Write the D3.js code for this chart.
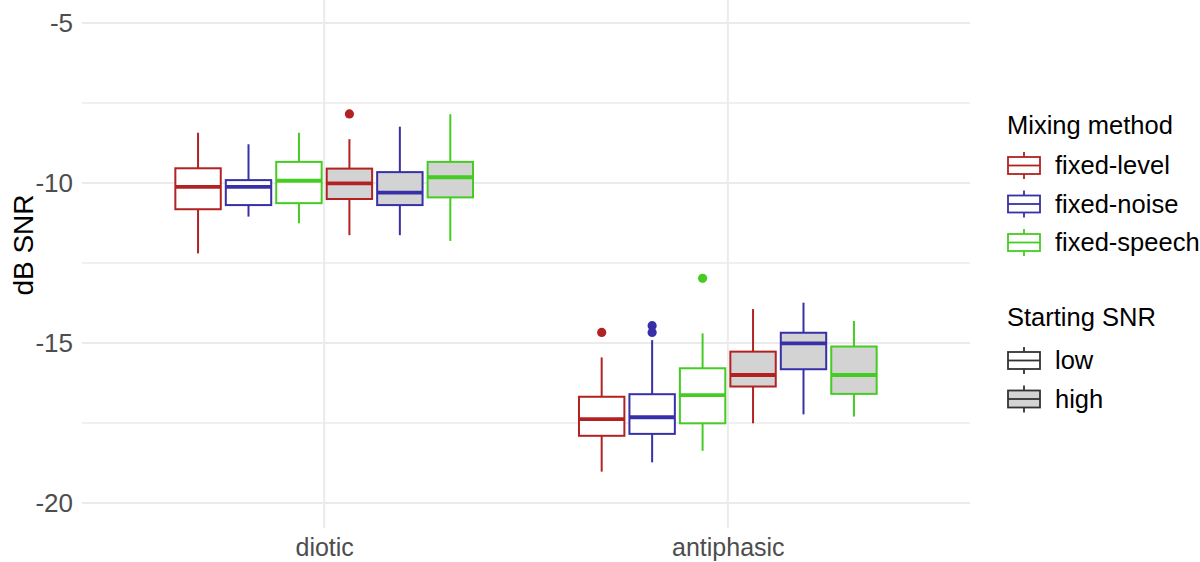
<!DOCTYPE html>
<html>
<head>
<meta charset="utf-8">
<script src="https://cdn.jsdelivr.net/npm/d3@7"></script>
<style>
  body { margin: 0; background: #fff; }
  svg { font-family: "Liberation Sans", Arial, sans-serif; }
</style>
</head>
<body>
<svg id="chart" width="1200" height="562"></svg>
<script>
// data, order inside each category: low x (level, noise, speech), high x (level, noise, speech)
const categories = ["diotic", "antiphasic"];
const methods = ["fixed-level", "fixed-noise", "fixed-speech"];
const starts = ["low", "high"];

const whiskerLow = [-12.2, -11.05, -11.26, -11.63, -11.63, -11.81,
                    -19.02, -18.73, -18.37, -17.51, -17.23, -17.3];
const q1 = [-10.82, -10.69, -10.63, -10.5, -10.69, -10.45,
            -17.9, -17.84, -17.51, -16.36, -15.82, -16.59];
const medians = [-10.12, -10.12, -9.93, -10.01, -10.3, -9.82,
                 -17.38, -17.32, -16.63, -16.0, -15.01, -16.0];
const q3 = [-9.54, -9.91, -9.34, -9.55, -9.66, -9.34,
            -16.68, -16.6, -15.79, -15.27, -14.68, -15.11];
const whiskerHigh = [-8.43, -8.79, -8.43, -8.63, -8.24, -7.85,
                     -15.45, -14.91, -14.7, -13.94, -13.74, -14.31];
const outliers = [[], [], [], [-7.84], [], [],
                  [-14.67], [-14.46, -14.67], [-12.98], [], [], []];

const yTicks = [-5, -10, -15, -20];
const yMinor = [-7.5, -12.5, -17.5];

const methodColors = ["#B22222", "#3730A9", "#44CC22"];
const startFills = ["#FFFFFF", "#D3D3D3"];

// layout
const svg = d3.select("#chart");
const panel = { left: 82, right: 970, top: 0, bottom: 528 };

const x = d3.scalePoint()
  .domain(categories)
  .range([panel.left, panel.right])
  .padding(0.6);

const dodgeWidth = x.step() * 0.75;
const groups = d3.range(starts.length * methods.length);
const xInner = d3.scaleBand()
  .domain(groups)
  .range([-dodgeWidth / 2, dodgeWidth / 2])
  .paddingInner(0.1)
  .paddingOuter(0.05);

const y = d3.scaleLinear()
  .domain([-20, -5])
  .range([503, 23]);

// grid
const grid = svg.append("g").attr("class", "grid");
grid.selectAll("line.ymin")
  .data(yMinor)
  .join("line")
  .attr("x1", panel.left).attr("x2", panel.right)
  .attr("y1", d => y(d)).attr("y2", d => y(d))
  .attr("stroke", "#EBEBEB").attr("stroke-width", 1.3);
grid.selectAll("line.ymaj")
  .data(yTicks)
  .join("line")
  .attr("x1", panel.left).attr("x2", panel.right)
  .attr("y1", d => y(d)).attr("y2", d => y(d))
  .attr("stroke", "#EBEBEB").attr("stroke-width", 2);
grid.selectAll("line.x")
  .data(categories)
  .join("line")
  .attr("x1", d => x(d)).attr("x2", d => x(d))
  .attr("y1", panel.top).attr("y2", panel.bottom)
  .attr("stroke", "#EBEBEB").attr("stroke-width", 2);

// axes (ggplot minimal: no lines, just labels)
const yAxis = svg.append("g")
  .attr("transform", `translate(${panel.left},0)`)
  .call(d3.axisLeft(y).tickValues(yTicks).tickFormat(d => String(d)).tickSize(0).tickPadding(9));
yAxis.select(".domain").remove();
yAxis.selectAll("text")
  .attr("fill", "#4D4D4D")
  .style("font-size", "26px")
  .style("font-family", "Liberation Sans, Arial, sans-serif");

const xAxis = svg.append("g")
  .attr("transform", `translate(0,${panel.bottom})`)
  .call(d3.axisBottom(x).tickSize(0).tickPadding(10));
xAxis.select(".domain").remove();
xAxis.selectAll("text")
  .attr("fill", "#4D4D4D")
  .style("font-size", "25px")
  .style("font-family", "Liberation Sans, Arial, sans-serif");

svg.append("text")
  .attr("transform", "translate(33,245) rotate(-90)")
  .attr("text-anchor", "middle")
  .style("font-size", "28px")
  .attr("fill", "#000")
  .text("dB SNR");

// boxes
const boxData = d3.range(categories.length * groups.length).map(k => {
  const g = k % groups.length;
  return {
    k,
    cat: categories[Math.floor(k / groups.length)],
    g,
    method: g % methods.length,
    start: Math.floor(g / methods.length)
  };
});

const boxes = svg.append("g").attr("class", "boxes")
  .selectAll("g")
  .data(boxData)
  .join("g")
  .attr("transform", d => `translate(${x(d.cat) + xInner(d.g)},0)`);

const bw = xInner.bandwidth();

boxes.append("line") // upper whisker
  .attr("x1", bw / 2).attr("x2", bw / 2)
  .attr("y1", d => y(whiskerHigh[d.k])).attr("y2", d => y(q3[d.k]))
  .attr("stroke", d => methodColors[d.method]).attr("stroke-width", 2);
boxes.append("line") // lower whisker
  .attr("x1", bw / 2).attr("x2", bw / 2)
  .attr("y1", d => y(q1[d.k])).attr("y2", d => y(whiskerLow[d.k]))
  .attr("stroke", d => methodColors[d.method]).attr("stroke-width", 2);
boxes.append("rect")
  .attr("x", 0).attr("width", bw)
  .attr("y", d => y(q3[d.k]))
  .attr("height", d => y(q1[d.k]) - y(q3[d.k]))
  .attr("fill", d => startFills[d.start])
  .attr("stroke", d => methodColors[d.method]).attr("stroke-width", 2);
boxes.append("line") // median
  .attr("x1", 0).attr("x2", bw)
  .attr("y1", d => y(medians[d.k])).attr("y2", d => y(medians[d.k]))
  .attr("stroke", d => methodColors[d.method]).attr("stroke-width", 3.8);
boxes.selectAll("circle")
  .data(d => outliers[d.k].map(v => ({ v, method: d.method })))
  .join("circle")
  .attr("cx", bw / 2)
  .attr("cy", d => y(d.v))
  .attr("r", 4.6)
  .attr("fill", d => methodColors[d.method]);

// legends
function legendKey(g, stroke, fill) {
  g.append("line").attr("x1", 16).attr("x2", 16).attr("y1", -13).attr("y2", 14)
    .attr("stroke", stroke).attr("stroke-width", 1.8);
  g.append("rect").attr("x", 0).attr("y", -8).attr("width", 32).attr("height", 17)
    .attr("fill", fill).attr("stroke", stroke).attr("stroke-width", 1.8);
  g.append("line").attr("x1", 0).attr("x2", 32).attr("y1", 0.5).attr("y2", 0.5)
    .attr("stroke", stroke).attr("stroke-width", 1.8);
}

const leg1 = svg.append("g").attr("transform", "translate(1007,0)");
leg1.append("text").attr("x", 0).attr("y", 134)
  .style("font-size", "25.5px").attr("fill", "#000").text("Mixing method");
methods.forEach((m, i) => {
  const g = leg1.append("g").attr("transform", `translate(1,${165 + i * 38.5})`);
  legendKey(g, methodColors[i], "#FFFFFF");
  g.append("text").attr("x", 47).attr("y", 9)
    .style("font-size", "25.5px").attr("fill", "#000").text(m);
});

const leg2 = svg.append("g").attr("transform", "translate(1007,0)");
leg2.append("text").attr("x", 0).attr("y", 326)
  .style("font-size", "25.5px").attr("fill", "#000").text("Starting SNR");
starts.forEach((s, i) => {
  const g = leg2.append("g").attr("transform", `translate(1,${360 + i * 38.5})`);
  legendKey(g, "#333333", startFills[i]);
  g.append("text").attr("x", 47).attr("y", 9)
    .style("font-size", "25.5px").attr("fill", "#000").text(s);
});
</script>
</body>
</html>
